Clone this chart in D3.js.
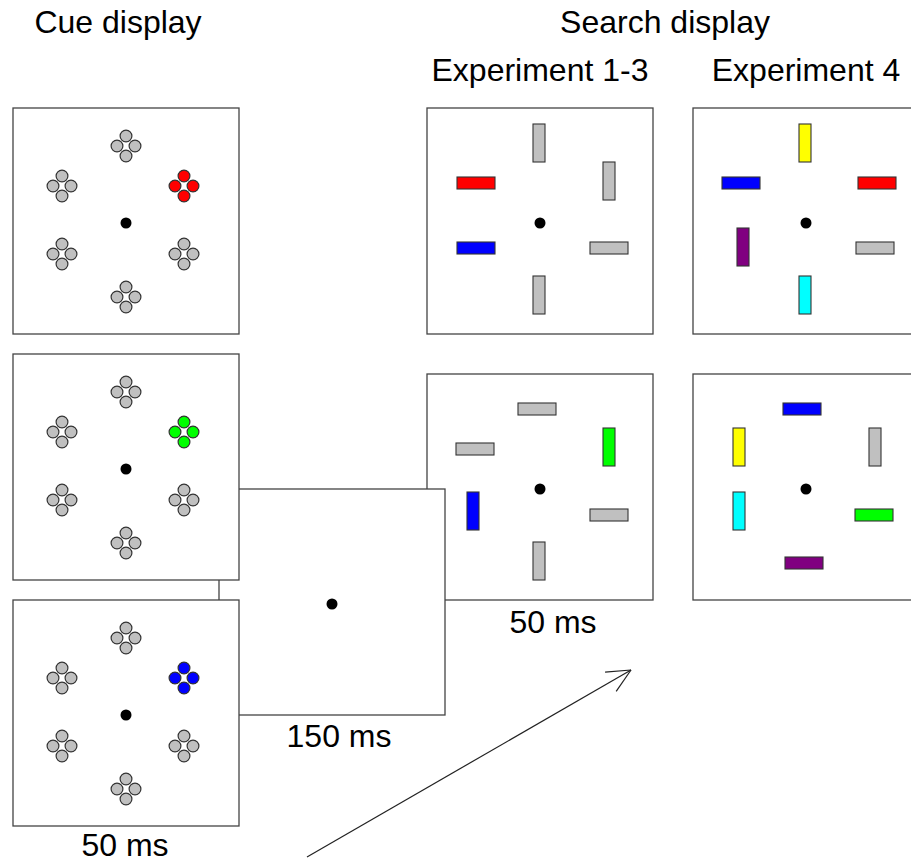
<!DOCTYPE html>
<html><head><meta charset="utf-8">
<script src="https://cdn.jsdelivr.net/npm/d3@7"></script>
<style>html,body{margin:0;padding:0;background:#fff;}svg{display:block;}</style>
</head><body>
<script>
// ---------- data ----------
// cue locations (relative to fixation, display units)
const cueLocations = [[0,-77],[58,-37],[58,31],[0,74],[-64,31],[-64,-37]];
const cueTargetIndex = 1;
const cueTargetColors = ["#ff0000","#00ff00","#0000ff"];
// search items: [dx, dy, orientation (h/v), colour]
const searchExp13Top = [[-1,-80,"v","#c0c0c0"],[69,-42,"v","#c0c0c0"],[-64,-40,"h","#ff0000"],[-64,25,"h","#0000ff"],[69,25,"h","#c0c0c0"],[-1,72,"v","#c0c0c0"]];
const searchExp4Top = [[-1,-80,"v","#ffff00"],[-65,-40,"h","#0000ff"],[71,-40,"h","#ff0000"],[-63,24,"v","#800080"],[69,25,"h","#c0c0c0"],[-1,72,"v","#00ffff"]];
const searchExp13Bottom = [[-3,-80,"h","#c0c0c0"],[-65,-40,"h","#c0c0c0"],[69,-42,"v","#00ff00"],[-67,22,"v","#0000ff"],[69,26,"h","#c0c0c0"],[-1,72,"v","#c0c0c0"]];
const searchExp4Bottom = [[-4,-80,"h","#0000ff"],[-67,-42,"v","#ffff00"],[69,-42,"v","#c0c0c0"],[-67,22,"v","#00ffff"],[68,26,"h","#00ff00"],[-2,74,"h","#800080"]];
const titles = ["Cue display","Search display","Experiment 1-3","Experiment 4"];
const durations = ["50 ms","150 ms","50 ms"];

// ---------- drawing ----------
const W = 911, H = 863;
const svg = d3.select("body").append("svg").attr("width", W).attr("height", H);
const BOX = 226;
const font = "'Liberation Sans', Arial, Helvetica, sans-serif";

function panel(x0, y0) {
  const g = svg.append("g");
  g.append("rect").attr("x", x0).attr("y", y0).attr("width", BOX).attr("height", BOX)
    .attr("fill", "#fff").attr("stroke", "#444").attr("stroke-width", 1.3);
  const sx = d3.scaleLinear().domain([-113, 113]).range([x0, x0 + BOX]);
  const sy = d3.scaleLinear().domain([-115, 111]).range([y0, y0 + BOX]);
  return {g, sx, sy};
}
function fixation(p) {
  p.g.append("circle").attr("cx", p.sx(0)).attr("cy", p.sy(0)).attr("r", 5.5).attr("fill", "#000");
}
function cuePanel(x0, y0, colour) {
  const p = panel(x0, y0);
  fixation(p);
  const off = [[0,-10],[9,0],[0,10],[-9,0]];
  cueLocations.forEach((loc, i) => {
    const fill = i === cueTargetIndex ? colour : "#c0c0c0";
    p.g.selectAll(null).data(off).enter().append("circle")
      .attr("cx", d => p.sx(loc[0] + d[0])).attr("cy", d => p.sy(loc[1] + d[1]))
      .attr("r", 5.9).attr("fill", fill).attr("stroke", "#333").attr("stroke-width", 1.2);
  });
}
function searchPanel(x0, y0, items) {
  const p = panel(x0, y0);
  fixation(p);
  p.g.selectAll(null).data(items).enter().append("rect")
    .attr("x", d => p.sx(d[0]) - (d[2] === "h" ? 19 : 6))
    .attr("y", d => p.sy(d[1]) - (d[2] === "h" ? 6 : 19))
    .attr("width", d => d[2] === "h" ? 38 : 12)
    .attr("height", d => d[2] === "h" ? 12 : 38)
    .attr("fill", d => d[3]).attr("stroke", "#333").attr("stroke-width", 1.1);
}

// search displays (back)
searchPanel(427, 108, searchExp13Top);
searchPanel(693, 108, searchExp4Top);
searchPanel(427, 374, searchExp13Bottom);
searchPanel(693, 374, searchExp4Bottom);
// fixation display
const fp = panel(219, 489);
fixation(fp);
// cue displays (front)
cuePanel(13, 108, cueTargetColors[0]);
cuePanel(13, 354, cueTargetColors[1]);
cuePanel(13, 600, cueTargetColors[2]);

// texts
function txt(s, x, y) {
  svg.append("text").attr("x", x).attr("y", y).attr("text-anchor", "middle")
    .attr("font-family", font).attr("font-size", 32).attr("fill", "#000").text(s);
}
txt(titles[0], 118, 33);
txt(titles[1], 665, 33);
txt(titles[2], 540, 81);
txt(titles[3], 806, 81);
txt(durations[2], 553, 633);
txt(durations[1], 339, 747);
txt(durations[0], 125, 856);

// arrow
const a0 = [307, 857], a1 = [631, 670];
svg.append("line").attr("x1", a0[0]).attr("y1", a0[1]).attr("x2", a1[0]).attr("y2", a1[1])
  .attr("stroke", "#222").attr("stroke-width", 1.2);
const ang = Math.atan2(a0[1] - a1[1], a0[0] - a1[0]);
[-0.44, 0.44].forEach(t => {
  svg.append("line").attr("x1", a1[0]).attr("y1", a1[1])
    .attr("x2", a1[0] + 26 * Math.cos(ang + t)).attr("y2", a1[1] + 26 * Math.sin(ang + t))
    .attr("stroke", "#222").attr("stroke-width", 1.2);
});
</script>
</body></html>
